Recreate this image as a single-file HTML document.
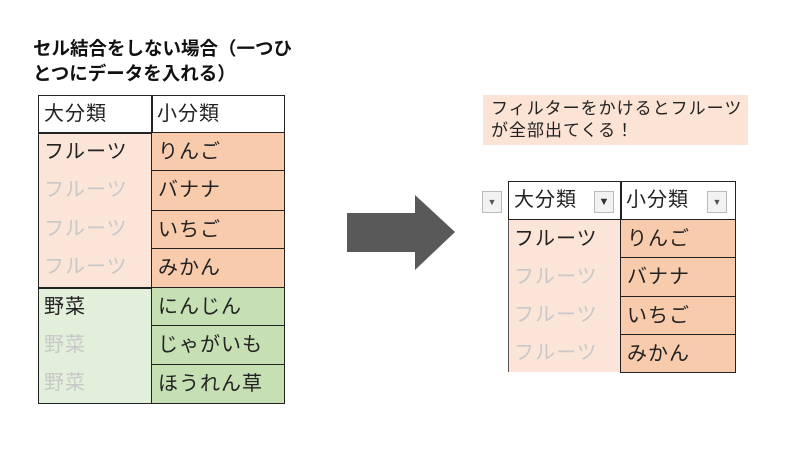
<!DOCTYPE html>
<html><head><meta charset="utf-8"><style>
body{margin:0;width:800px;height:461px;background:#fff;position:relative;overflow:hidden;font-family:"Liberation Sans","Noto Sans CJK JP",sans-serif;}
div{position:absolute;box-sizing:border-box;}
.t{font-size:20px;line-height:38px;padding-left:6px;white-space:nowrap;color:#222;letter-spacing:1px}
.g{color:#c8c8c8}
.f{background:#f8cbad;border:1.5px solid #222}
.v{background:#c6e0b4;border:1.5px solid #222}
.btn{width:20px;height:22px;background:#f2f2f2;border:1px solid #bbb;font-size:9px;color:#555;text-align:center;line-height:20px}
</style></head><body>
<div style="left:33px;top:36px;font-size:18.5px;font-weight:bold;line-height:25px;color:#111">セル結合をしない場合（一つひ<br>とつにデータを入れる）</div>

<!-- left table -->
<div style="left:38px;top:95px;width:247px;height:309px;border:1.5px solid #222;background:#fff"></div>
<div style="left:39px;top:133px;width:113px;height:154px;background:#fbe5d9"></div>
<div style="left:39px;top:287px;width:113px;height:116px;background:#e2efda"></div>
<div style="left:39px;top:287px;width:113px;height:1.5px;background:#222"></div>
<div style="left:38px;top:132px;width:247px;height:1.5px;background:#222"></div>
<div style="left:151px;top:95px;width:1.5px;height:309px;background:#222"></div>
<div class="t" style="left:38px;top:95px">大分類</div>
<div class="t" style="left:151px;top:95px">小分類</div>
<div class="t" style="left:38px;top:133px">フルーツ</div>
<div class="t g" style="left:38px;top:171px">フルーツ</div>
<div class="t g" style="left:38px;top:210px">フルーツ</div>
<div class="t g" style="left:38px;top:248px">フルーツ</div>
<div class="t" style="left:38px;top:288px">野菜</div>
<div class="t g" style="left:38px;top:326px">野菜</div>
<div class="t g" style="left:38px;top:364px">野菜</div>
<div class="t f" style="left:151px;top:132px;width:134px;height:39px">りんご</div>
<div class="t f" style="left:151px;top:170px;width:134px;height:41px">バナナ</div>
<div class="t f" style="left:151px;top:210px;width:134px;height:39px">いちご</div>
<div class="t f" style="left:151px;top:248px;width:134px;height:40px">みかん</div>
<div class="t v" style="left:151px;top:287px;width:134px;height:39px">にんじん</div>
<div class="t v" style="left:151px;top:325px;width:134px;height:40px">じゃがいも</div>
<div class="t v" style="left:151px;top:364px;width:134px;height:40px">ほうれん草</div>

<!-- arrow -->
<svg style="position:absolute;left:0;top:0" width="800" height="461"><polygon points="347,213 415,213 415,195 455,232 415,270 415,252 347,252" fill="#595959"/></svg>

<!-- note -->
<div style="left:483px;top:95px;width:265px;height:50px;background:#fbe3d6;font-size:17px;line-height:22px;padding:3px 0 0 8px;color:#222;letter-spacing:1px">フィルターをかけるとフルーツ<br>が全部出てくる！</div>

<!-- right table -->
<div class="btn" style="left:482px;top:191px">▼</div>
<div style="left:508px;top:181px;width:228px;height:39px;border:1.5px solid #222;background:#fff"></div>
<div style="left:620px;top:181px;width:1.5px;height:39px;background:#222"></div>
<div style="left:508px;top:220px;width:113px;height:152px;background:#fbe5d9;border-left:1.5px solid #555"></div>
<div class="t" style="left:508px;top:181px">大分類</div>
<div class="t" style="left:620px;top:181px">小分類</div>
<div class="btn" style="left:594px;top:191px;font-size:11px;color:#333">▼</div>
<div class="btn" style="left:707px;top:191px">▼</div>
<div class="t" style="left:508px;top:220px">フルーツ</div>
<div class="t g" style="left:508px;top:258px">フルーツ</div>
<div class="t g" style="left:508px;top:296px">フルーツ</div>
<div class="t g" style="left:508px;top:334px">フルーツ</div>
<div class="t f" style="left:620px;top:219px;width:116px;height:39px">りんご</div>
<div class="t f" style="left:620px;top:257px;width:116px;height:40px">バナナ</div>
<div class="t f" style="left:620px;top:296px;width:116px;height:39px">いちご</div>
<div class="t f" style="left:620px;top:334px;width:116px;height:39px">みかん</div>
</body></html>
